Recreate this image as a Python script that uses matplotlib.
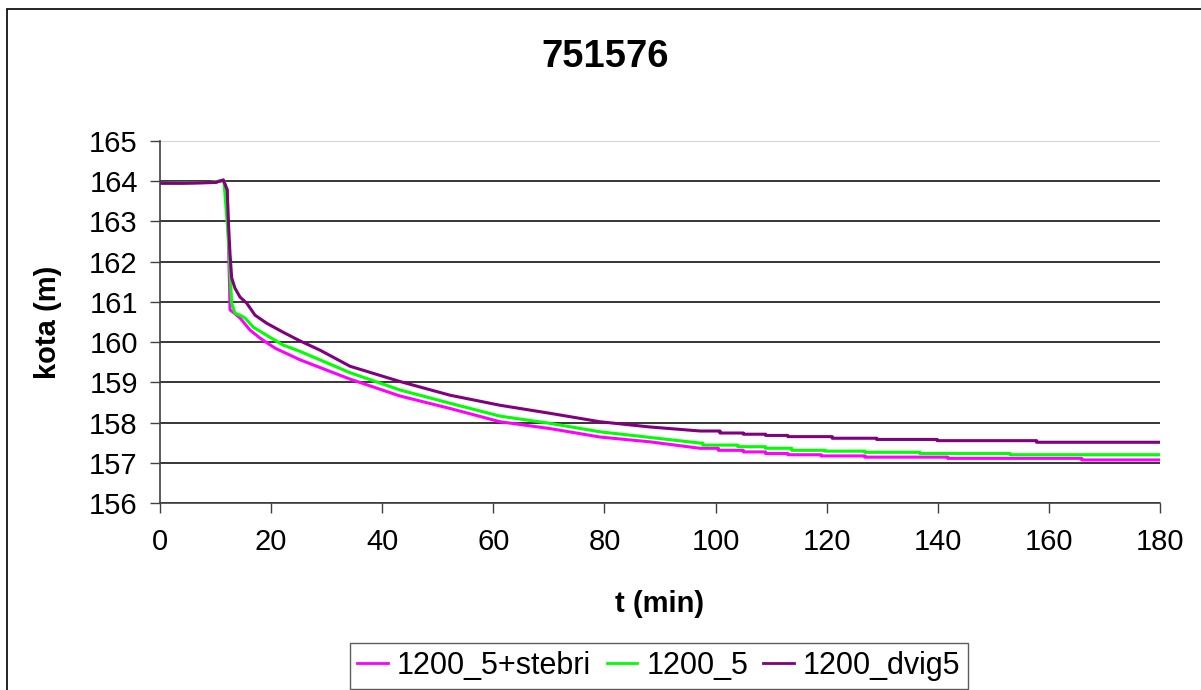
import numpy as np
import matplotlib
matplotlib.use("Agg")
import matplotlib.pyplot as plt
from matplotlib.patches import Rectangle

plt.rcParams["font.family"] = ["Liberation Sans", "DejaVu Sans"]

# --- water level (kota) vs time, three model runs ---
# smooth part of each run (t in min, level in m)
t_stebri = [0, 4, 10, 11.4, 12.1, 12.3, 12.5, 12.6, 13.1, 14.4, 16.2, 18.0, 20.7,
            25.2, 34.2, 43.2, 52.2, 61.2, 70.2, 79.2, 88.2, 97.2]
y_stebri = [163.95, 163.95, 163.97, 164.03, 163.78, 162.6, 161.5, 160.8, 160.75, 160.6,
            160.3, 160.1, 159.85, 159.56, 159.08, 158.66, 158.35, 158.02, 157.85,
            157.64, 157.52, 157.36]

t_base = [0, 9, 10.5, 11.5, 12.3, 12.6, 12.9, 13.5, 14.4, 15.3, 16.8, 19.2, 22.1,
          25.2, 34.2, 43.2, 52.2, 61.2, 70.2, 79.2, 88.2, 97.2]
y_base = [163.95, 163.97, 164.0, 164.02, 162.6, 161.8, 160.97, 160.72, 160.67, 160.6,
          160.37, 160.17, 159.93, 159.77, 159.24, 158.81, 158.48, 158.16, 157.98,
          157.77, 157.63, 157.49]

t_dvig = [0, 4, 10, 11.4, 12.1, 12.3, 12.6, 12.9, 13.5, 14.4, 15.6, 17.1, 19.2,
          22.1, 25.2, 28.8, 34.2, 43.2, 52.2, 61.2, 70.2, 79.2, 88.2, 97.2]
y_dvig = [163.95, 163.95, 163.97, 164.03, 163.78, 163.03, 162.2, 161.6, 161.34,
          161.12, 160.97, 160.67, 160.47, 160.25, 160.03, 159.8, 159.40, 159.02,
          158.68, 158.43, 158.23, 158.02, 157.89, 157.79]

# stepped tails: time where each level starts, and the level
tail_t_stebri = [100.5, 105, 109, 113, 119, 126.9, 141.8, 165.9]
tail_y_stebri = [157.31, 157.27, 157.23, 157.20, 157.17, 157.14, 157.11, 157.07]

tail_t_base = [97.7, 104, 109, 113.7, 119.7, 126.9, 136.8, 153]
tail_y_base = [157.44, 157.40, 157.36, 157.31, 157.29, 157.26, 157.23, 157.20]

tail_t_dvig = [100.8, 105, 109, 113, 121, 129, 139.9, 157.8]
tail_y_dvig = [157.74, 157.71, 157.68, 157.65, 157.61, 157.58, 157.55, 157.51]

t_end = 180

labels = ["1200_5+stebri", "1200_5", "1200_dvig5"]
colors = ["#ff00ff", "#00ff00", "#800080"]

x_ticks = np.arange(0, 181, 20)
y_ticks = np.arange(156, 166, 1)


def with_steps(t, y, tail_t, tail_y):
    """Append a staircase tail (level held until next step) to a series."""
    tt = list(t)
    yy = list(y)
    prev = yy[-1]
    for ts, ys in zip(tail_t, tail_y):
        tt += [ts, ts]
        yy += [prev, ys]
        prev = ys
    tt.append(t_end)
    yy.append(prev)
    return tt, yy


series = [
    with_steps(t_stebri, y_stebri, tail_t_stebri, tail_y_stebri),
    with_steps(t_base, y_base, tail_t_base, tail_y_base),
    with_steps(t_dvig, y_dvig, tail_t_dvig, tail_y_dvig),
]

W, H = 1201, 690
fig = plt.figure(figsize=(W / 100, H / 100), dpi=100)
ax = fig.add_axes([160 / W, 1 - 503 / H, 1000 / W, 362 / H])

for (tt, yy), lab, col in zip(series, labels, colors):
    ax.plot(tt, yy, color=col, lw=2.2, label=lab)

ax.set_xlim(0, 180)
ax.set_ylim(156, 165)
ax.set_xticks(x_ticks)
ax.set_yticks(y_ticks)
ax.tick_params(axis="both", labelsize=21, direction="out", length=7, width=1,
               color="#404040")
ax.tick_params(axis="x", pad=11)
ax.tick_params(axis="y", pad=9)

for s in ["top", "right"]:
    ax.spines[s].set_visible(False)
for s in ["left", "bottom"]:
    ax.spines[s].set_color("#404040")
    ax.spines[s].set_linewidth(1.2)

ax.yaxis.grid(True, color="black", lw=1.1)
ax.set_axisbelow(True)
ax.yaxis.get_gridlines()[-1].set_color("#c8c8c8")

ax.set_xlabel("t (min)", fontsize=21, fontweight="bold")
ax.set_ylabel("kota (m)", fontsize=21, fontweight="bold")
ax.xaxis.set_label_coords(0.5, (503 - 604) / 362)
ax.xaxis.label.set_va("center")
ax.yaxis.set_label_coords((48 - 160) / 1000, 0.5)
ax.yaxis.label.set_va("center")

fig.text(605 / W, 1 - 57 / H, "751576", fontsize=27.5, fontweight="bold",
         ha="center", va="center")

leg = fig.legend(loc="center", bbox_to_anchor=(659 / W, 1 - 666 / H), ncol=3,
                 fontsize=22, frameon=True, fancybox=False, edgecolor="#333333",
                 handlelength=1.0, handletextpad=0.3, columnspacing=0.5,
                 borderpad=0.25, borderaxespad=0)
leg.get_frame().set_linewidth(1.0)
for line in leg.get_lines():
    line.set_linewidth(2)

# chart-area border
fig.patches.append(Rectangle((7 / W, -0.1), 1.2, 1 - 9 / H + 0.1,
                             transform=fig.transFigure, fill=False,
                             edgecolor="black", lw=1.2))

fig.savefig("out.png", dpi=100)
